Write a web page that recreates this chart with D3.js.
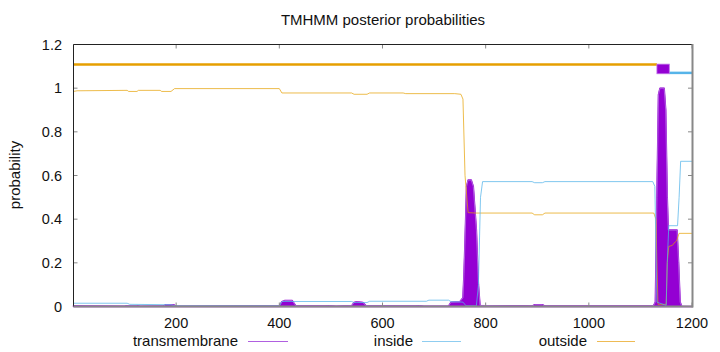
<!DOCTYPE html>
<html><head><meta charset="utf-8">
<script src="https://cdn.jsdelivr.net/npm/d3@7"></script>
<style>body{margin:0;background:#fff}svg{display:block}text{font-family:"Liberation Sans",Arial,sans-serif;fill:#111}</style>
</head><body><svg id="c" width="720" height="352"></svg>
<script>
const title = "TMHMM posterior probabilities";
const yLabel = "probability";
const xTicks = [200, 400, 600, 800, 1000, 1200];
const yTicks = [0, 0.2, 0.4, 0.6, 0.8, 1, 1.2];
const seriesNames = ["transmembrane", "inside", "outside"];

// transmembrane posterior (position, probability)
const tmPos = [1,20,100,105,125,130,175,180,195,200,400,405,410,425,432,490,495,510,540,545,550,562,568,665,670,680,728,733,750,756,758,760,763,766,772,776,782,786,789,890,895,910,915,1125,1129,1132,1135,1138,1146,1149,1152,1154,1157,1171,1174,1177,1180,1200];
const tmVal = [0.003,0.002,0.001,0.004,0.004,0.001,0.002,0.008,0.008,0.001,0.002,0.022,0.027,0.027,0.003,0.002,0.004,0.001,0.003,0.018,0.022,0.018,0.003,0.002,0.004,0.001,0.002,0.02,0.022,0.04,0.15,0.3,0.55,0.579,0.579,0.55,0.35,0.1,0.005,0.002,0.008,0.008,0.002,0.002,0.02,0.5,0.97,1.0,1.0,0.9,0.5,0.35,0.35,0.35,0.2,0.02,0.001,0];

// inside posterior
const inPos = [1,105,110,190,197,400,405,540,545,570,575,685,690,728,733,756,762,782,786,790,794,890,895,910,915,1124,1128,1132,1150,1152,1155,1172,1175,1178,1200];
const inVal = [0.015,0.015,0.01,0.008,0.003,0.003,0.023,0.023,0.018,0.018,0.024,0.024,0.029,0.029,0.022,0.02,0.003,0.003,0.1,0.5,0.572,0.572,0.567,0.567,0.572,0.572,0.55,0.02,0.005,0.2,0.37,0.37,0.5,0.665,0.665];

// outside posterior
const outPos = [1,8,105,108,124,127,169,172,190,197,400,405,540,545,570,575,640,645,740,752,756,760,766,780,890,895,910,915,1126,1130,1134,1150,1152,1155,1162,1165,1170,1175,1200];
const outVal = [0.985,0.988,0.99,0.985,0.985,0.99,0.99,0.985,0.985,0.998,0.998,0.978,0.978,0.972,0.972,0.978,0.978,0.975,0.975,0.972,0.95,0.6,0.43,0.428,0.428,0.42,0.42,0.428,0.428,0.4,0.01,0.01,0.2,0.275,0.28,0.29,0.3,0.335,0.335];

// predicted topology track
const topOutside = [1, 1132];
const topTM = [1132, 1156];
const topInside = [1156, 1200];
const topLevels = {outside: 1.108, tmLow: 1.066, tmHigh: 1.11, inside: 1.07};

const colors = {tm: "#9400D3", inside: "#56B4E9", outside: "#E69F00"};

const svg = d3.select("#c");
const x = d3.scaleLinear().domain([1, 1200]).range([73.5, 692]);
const y = d3.scaleLinear().domain([0, 1.2]).range([306.5, 44.5]);

const pts = (p, v) => p.map((d, i) => [d, v[i]]);
const line = d3.line().x(d => x(d[0])).y(d => y(d[1]));
const area = d3.area().x(d => x(d[0])).y0(y(0)).y1(d => y(d[1]));

// TM filled
svg.append("path").attr("d", area(pts(tmPos, tmVal))).attr("fill", colors.tm)
  .attr("stroke", colors.tm).attr("stroke-width", 1.5).attr("stroke-linejoin", "round");
svg.append("path").attr("d", line(pts(tmPos, tmVal))).attr("fill", "none").attr("stroke", "#b060e0").attr("stroke-width", 1);
svg.append("path").attr("d", line(pts(outPos, outVal))).attr("fill", "none").attr("stroke", colors.outside).attr("stroke-opacity", 0.7).attr("stroke-width", 1);
svg.append("path").attr("d", line(pts(inPos, inVal))).attr("fill", "none").attr("stroke", colors.inside).attr("stroke-opacity", 0.75).attr("stroke-width", 1);

// topology track
svg.append("line").attr("x1", x(topOutside[0])).attr("x2", x(topOutside[1]))
  .attr("y1", y(topLevels.outside)).attr("y2", y(topLevels.outside))
  .attr("stroke", colors.outside).attr("stroke-width", 2.5);
svg.append("line").attr("x1", x(topInside[0])).attr("x2", x(topInside[1]))
  .attr("y1", y(topLevels.inside)).attr("y2", y(topLevels.inside))
  .attr("stroke", colors.inside).attr("stroke-width", 2.5);
svg.append("rect").attr("x", x(topTM[0])).attr("width", x(topTM[1]) - x(topTM[0]))
  .attr("y", y(topLevels.tmHigh)).attr("height", y(topLevels.tmLow) - y(topLevels.tmHigh))
  .attr("fill", colors.tm).attr("stroke", "#c070e8").attr("stroke-width", 0.8);

// ticks
const g = svg.append("g");
yTicks.forEach(t => {
  g.append("line").attr("x1", 73.5).attr("x2", 77.5).attr("y1", y(t)).attr("y2", y(t)).attr("stroke", "#888");
  g.append("line").attr("x1", 688).attr("x2", 692).attr("y1", y(t)).attr("y2", y(t)).attr("stroke", "#888");
  g.append("text").attr("x", 62).attr("y", y(t) + 5).attr("text-anchor", "end").attr("font-size", 14.5).text(d3.format("~g")(t));
});
xTicks.forEach(t => {
  g.append("line").attr("x1", x(t)).attr("x2", x(t)).attr("y1", 306.5).attr("y2", 302.5).attr("stroke", "#888");
  g.append("line").attr("x1", x(t)).attr("x2", x(t)).attr("y1", 44.5).attr("y2", 48.5).attr("stroke", "#888");
  g.append("text").attr("x", x(t)).attr("y", 328).attr("text-anchor", "middle").attr("font-size", 14.5).text(t);
});

// border
svg.append("line").attr("x1", 73.5).attr("x2", 692).attr("y1", 44.5).attr("y2", 44.5).attr("stroke", "#222");
svg.append("line").attr("x1", 73.5).attr("x2", 73.5).attr("y1", 44.5).attr("y2", 306.5).attr("stroke", "#222");
svg.append("line").attr("x1", 73.5).attr("x2", 693).attr("y1", 306.5).attr("y2", 306.5).attr("stroke", "#888").attr("stroke-width", 2);
svg.append("line").attr("x1", 692.5).attr("x2", 692.5).attr("y1", 44).attr("y2", 307.5).attr("stroke", "#888").attr("stroke-width", 2);

// title & labels
svg.append("text").attr("x", 383).attr("y", 25).attr("text-anchor", "middle").attr("font-size", 15).text(title);
svg.append("text").attr("transform", "translate(20,175) rotate(-90)").attr("text-anchor", "middle").attr("font-size", 15).text(yLabel);

// legend
const legend = [
  {name: seriesNames[0], tx: 238, lx: [248, 288], c: "#b060e0"},
  {name: seriesNames[1], tx: 413, lx: [422, 461], c: "#8fcdf0"},
  {name: seriesNames[2], tx: 587, lx: [597, 635], c: "#eebb55"}
];
legend.forEach(l => {
  svg.append("text").attr("x", l.tx).attr("y", 346).attr("text-anchor", "end").attr("font-size", 15).text(l.name);
  svg.append("line").attr("x1", l.lx[0]).attr("x2", l.lx[1]).attr("y1", 341.5).attr("y2", 341.5).attr("stroke", l.c).attr("stroke-width", 1);
});
</script></body></html>
